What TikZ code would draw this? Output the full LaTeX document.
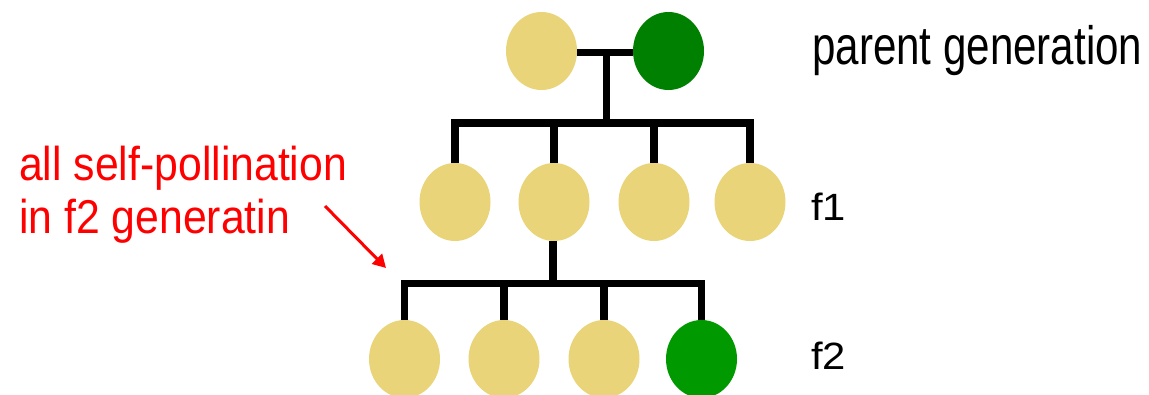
\documentclass[tikz,border=0pt]{standalone}
\usepackage{fontspec}
\setmainfont{Liberation Sans}
\usetikzlibrary{shapes.geometric,arrows.meta}
\definecolor{pale}{RGB}{234,212,122}
\definecolor{darkgreen}{RGB}{0,128,0}
\definecolor{midgreen}{RGB}{0,153,0}
\definecolor{note}{RGB}{255,0,0}
\tikzset{
  plant/.style={ellipse, minimum width=71pt, minimum height=78pt, inner sep=0pt, draw=none},
  yellowpea/.style={plant, fill=pale},
  greenpea/.style={plant, fill=#1},
  link/.style={draw=black, line width=7.5pt},
  genlabel/.style={anchor=base west, inner sep=0pt, text=black},
}
\begin{document}
\begin{tikzpicture}[x=1pt, y=-1pt]
  \useasboundingbox[fill=white] (0,0) rectangle (1149,394);

  % parent generation
  \node[yellowpea] (p1) at (541.5,51) {};
  \node[greenpea=darkgreen] (p2) at (668.5,51) {};
  \coordinate (m0) at (606.5,52.5);
  \coordinate (b1) at (606.5,123);
  \draw[link] (p1.east |- m0) -- (p2.west |- m0);
  \draw[link] (m0) -- (b1);

  % f1 generation
  \node[yellowpea] (a1) at (455,202) {};
  \node[yellowpea] (a2) at (554,202) {};
  \node[yellowpea] (a3) at (654,202) {};
  \node[yellowpea] (a4) at (750,202) {};
  \draw[link] (a1.north) |- (b1) -| (a4.north);
  \draw[link] (a2.north) -- (a2.north |- b1);
  \draw[link] (a3.north) -- (a3.north |- b1);

  % f2 generation
  \coordinate (b2) at (553,283.5);
  \node[yellowpea] (c1) at (404.5,359) {};
  \node[yellowpea] (c2) at (504,359) {};
  \node[yellowpea] (c3) at (604,359) {};
  \node[greenpea=midgreen] (c4) at (701.5,359) {};
  \draw[link] (a2.south -| b2) -- (b2);
  \draw[link] (c1.north) |- (b2) -| (c4.north);
  \draw[link] (c2.north) -- (c2.north |- b2);
  \draw[link] (c3.north) -- (c3.north |- b2);

  % generation labels
  \node[genlabel, font=\fontsize{54}{60}\selectfont] (lp) at (812,64)
    {\scalebox{0.78}[1]{parent generation}};
  \node[genlabel, font=\fontsize{38}{42}\selectfont] (l1) at (811,220)
    {\scalebox{1.1}[1]{f1}};
  \node[genlabel, font=\fontsize{38}{42}\selectfont] (l2) at (811,369)
    {\scalebox{1.1}[1]{f2}};

  % note about self-pollination (base is the second line)
  \node[anchor=base west, inner sep=0pt, align=left, text=note,
        font=\fontsize{47.5}{53}\selectfont] (note) at (19,233)
    {\scalebox{0.9}[1]{all self-pollination}\\\scalebox{0.9}[1]{in f2 generatin}};
  \coordinate (n0) at (325,206);
  \coordinate (n1) at (386,268);
  \draw[note, line width=3pt, -{Triangle[length=13pt,width=14pt]}] (n0) -- (n1);
\end{tikzpicture}
\end{document}
